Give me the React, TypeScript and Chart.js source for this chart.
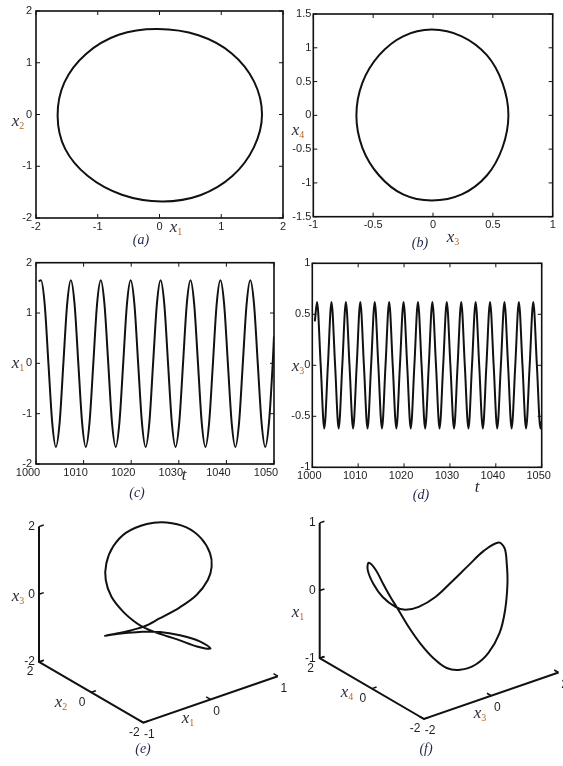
import React, { useEffect, useRef } from "react";
import { Chart, registerables } from "chart.js";

Chart.register(...registerables);

// ---------- data ----------

// Limit cycle in the (x1, x2) plane
const cycleX1 = [1.66, 1.53, 1.17, 0.63, -0.03, -0.66, -1.19, -1.54, -1.65, -1.53, -1.16, -0.61, 0.04, 0.66, 1.18, 1.53];
const cycleX2 = [0.0, 0.64, 1.18, 1.53, 1.65, 1.54, 1.17, 0.62, -0.03, -0.66, -1.19, -1.55, -1.68, -1.56, -1.19, -0.63];

// Limit cycle in the (x3, x4) plane
const cycleX3 = [0.63, 0.58, 0.45, 0.24, -0.01, -0.25, -0.45, -0.59, -0.64, -0.59, -0.45, -0.25, -0.01, 0.24, 0.45, 0.58];
const cycleX4 = [0.0, 0.48, 0.89, 1.17, 1.27, 1.17, 0.89, 0.48, 0.0, -0.48, -0.89, -1.17, -1.26, -1.17, -0.89, -0.48];

// Time samples shared by x1(t) and x3(t)
const tStart = 1000.55;
const tSamples = [
  1001.04, 1001.83, 1002.61, 1003.4, 1004.18, 1004.97, 1005.75, 1006.54,
  1007.32, 1008.11, 1008.89, 1009.68, 1010.46, 1011.25, 1012.04, 1012.82,
  1013.61, 1014.39, 1015.18, 1015.96, 1016.75, 1017.53, 1018.32, 1019.1,
  1019.89, 1020.68, 1021.46, 1022.25, 1023.03, 1023.82, 1024.6, 1025.39,
  1026.17, 1026.96, 1027.74, 1028.53, 1029.31, 1030.1, 1030.89, 1031.67,
  1032.46, 1033.24, 1034.03, 1034.81, 1035.6, 1036.38, 1037.17, 1037.95,
  1038.74, 1039.53, 1040.31, 1041.1, 1041.88, 1042.67, 1043.45, 1044.24,
  1045.02, 1045.81, 1046.59, 1047.38, 1048.16, 1048.95, 1049.73, 1050,
];

const x1Start = 1.63;
const x1Series = [
  1.65, 1.17, 0, -1.17, -1.66, -1.17, 0, 1.17,
  1.65, 1.17, 0, -1.17, -1.66, -1.17, 0, 1.17,
  1.65, 1.17, 0, -1.17, -1.66, -1.17, 0, 1.17,
  1.65, 1.17, 0, -1.17, -1.66, -1.17, 0, 1.17,
  1.65, 1.17, 0, -1.17, -1.66, -1.17, 0, 1.17,
  1.65, 1.17, 0, -1.17, -1.66, -1.17, 0, 1.17,
  1.65, 1.17, 0, -1.17, -1.66, -1.17, 0, 1.17,
  1.65, 1.17, 0, -1.17, -1.66, -1.17, 0, 0.54,
];

const x3Start = 0.43;
const x3Series = [
  0.62, 0, -0.62, 0, 0.62, 0, -0.62, 0,
  0.62, 0, -0.62, 0, 0.62, 0, -0.62, 0,
  0.62, 0, -0.62, 0, 0.62, 0, -0.62, 0,
  0.62, 0, -0.62, 0, 0.62, 0, -0.62, 0,
  0.62, 0, -0.62, 0, 0.62, 0, -0.62, 0,
  0.62, 0, -0.62, 0, 0.62, 0, -0.62, 0,
  0.62, 0, -0.62, 0, 0.62, 0, -0.62, 0,
  0.62, 0, -0.62, 0, 0.62, 0, -0.62, -0.55,
];

// Closed trajectory in (x1, x2, x3) space
const trajE_x1 = [-0.95, -0.65, -0.31, -0.03, 0.31, 0.61, 0.82, 0.92, 0.93, 0.83, 0.63, 0.35, 0.06, -0.25, -0.46, -0.58, -0.62, -0.57, -0.44, -0.31, -0.23, -0.07, 0.19, 0.45, 0.62, 0.44, 0.13, -0.17, -0.47, -0.7];
const trajE_x2 = [-0.4, -0.32, -0.23, -0.12, -0.01, 0.11, 0.22, 0.33, 0.42, 0.5, 0.55, 0.59, 0.6, 0.59, 0.55, 0.5, 0.42, 0.33, 0.22, 0.11, -0.01, -0.12, -0.23, -0.32, -0.4, -0.45, -0.49, -0.5, -0.49, -0.45];
const trajE_x3 = [-0.18, -0.32, -0.43, -0.43, -0.39, -0.28, -0.03, 0.25, 0.6, 1.07, 1.51, 1.83, 1.98, 1.94, 1.69, 1.3, 0.87, 0.38, -0.1, -0.44, -0.6, -0.83, -1.15, -1.5, -1.64, -1.28, -0.87, -0.56, -0.36, -0.26];

// Closed trajectory in (x3, x4, x1) space
const trajF_x3 = [0.86, 0.6, 0.37, 0.12, -0.11, -0.35, -0.5, -0.57, -0.77, -0.91, -0.99, -0.93, -0.76, -0.62, -0.54, -0.48, -0.4, -0.3, -0.16, -0.03, 0.12, 0.35, 0.56, 0.75, 0.83, 0.87, 0.88, 0.9];
const trajF_x4 = [-1.17, -0.94, -0.65, -0.33, 0.0, 0.33, 0.65, 0.94, 1.17, 1.35, 1.46, 1.5, 1.46, 1.35, 1.17, 0.94, 0.65, 0.33, 0.0, -0.33, -0.65, -0.94, -1.17, -1.35, -1.46, -1.5, -1.46, -1.35];
const trajF_x1 = [0.93, 0.8, 0.56, 0.29, 0.03, -0.15, -0.24, -0.25, -0.12, 0.06, 0.25, 0.34, 0.22, 0.01, -0.16, -0.31, -0.51, -0.7, -0.87, -0.96, -0.94, -0.84, -0.65, -0.35, 0.0, 0.4, 0.68, 0.88];

// ---------- styling ----------

const LINE = "#111111";
const TICK_COLOR = "#1e1e1e";
const SANS = '"Liberation Sans", Arial, sans-serif';
const SERIF = '"Liberation Serif", "Times New Roman", serif';
const VAR_COLOR = "#2c2a3a";
const SUB_COLOR = "#b8661c";
const TAG_COLOR = "#1f2648";
const TICK_SIZE = 11;

type Label = { x: number; y: number; text: string; sub?: string; tag?: boolean };

function drawLabels(ctx: CanvasRenderingContext2D, labels: Label[]) {
  ctx.save();
  ctx.textBaseline = "alphabetic";
  ctx.textAlign = "left";
  for (const l of labels) {
    if (l.tag) {
      ctx.font = `italic 14px ${SERIF}`;
      ctx.fillStyle = TAG_COLOR;
      const w = ctx.measureText(l.text).width;
      ctx.fillText(l.text, l.x - w / 2, l.y + 5);
      continue;
    }
    ctx.font = `italic 17px ${SERIF}`;
    const w = ctx.measureText(l.text).width;
    ctx.font = `10px ${SERIF}`;
    const ws = l.sub ? ctx.measureText(l.sub).width : 0;
    const x0 = l.x - (w + ws) / 2;
    ctx.font = `italic 17px ${SERIF}`;
    ctx.fillStyle = VAR_COLOR;
    ctx.fillText(l.text, x0, l.y + 4);
    if (l.sub) {
      ctx.font = `10px ${SERIF}`;
      ctx.fillStyle = SUB_COLOR;
      ctx.fillText(l.sub, x0 + w, l.y + 7);
    }
  }
  ctx.restore();
}

const fmt = (v: number) => String(Math.round(v * 100) / 100);

function range(n: number) {
  return Array.from({ length: n }, (_, i) => i);
}

// A closed curve drawn with smooth joins: the first and last segments only
// supply neighbours for the spline and are left transparent.
function closedCurve(pts: { x: number; y: number }[], tension: number) {
  const n = pts.length;
  const order = [n - 1, ...range(n), 0, 1];
  const last = n + 2;
  return {
    data: order.map((i) => pts[i]),
    showLine: true,
    borderColor: LINE,
    borderWidth: 2,
    pointRadius: 0,
    tension,
    segment: {
      borderColor: (c: any) => (c.p0DataIndex === 0 || c.p1DataIndex === last ? "rgba(0,0,0,0)" : LINE),
    },
  };
}

function timeSeries(t0: number, v0: number, values: number[]) {
  return {
    data: [{ x: t0, y: v0 }, ...tSamples.map((t, i) => ({ x: t, y: values[i] }))],
    showLine: true,
    borderColor: LINE,
    borderWidth: 2,
    pointRadius: 0,
    cubicInterpolationMode: "monotone",
  };
}

// ---------- 2-D panels ----------

type Panel2D = {
  pos: [number, number, number, number];
  area: [number, number, number, number];
  x: [number, number, number];
  y: [number, number, number];
  yPad: number;
  xShift: number;
  labels: Label[];
  series: () => any[];
};

const PANELS_2D: Panel2D[] = [
  {
    pos: [0, 0, 290, 250],
    area: [36, 11, 283, 218],
    x: [-2, 2, 1],
    y: [-2, 2, 1],
    yPad: 4,
    xShift: 0,
    labels: [
      { x: 18, y: 122, text: "x", sub: "2" },
      { x: 176, y: 228, text: "x", sub: "1" },
      { x: 141, y: 239, text: "(a)", tag: true },
    ],
    series: () => [closedCurve(cycleX1.map((x, i) => ({ x, y: cycleX2[i] })), 0.34)],
  },
  {
    pos: [290, 0, 273, 250],
    area: [23.3, 14, 262.7, 216.7],
    x: [-1, 1, 0.5],
    y: [-1.5, 1.5, 0.5],
    yPad: 2,
    xShift: 0,
    labels: [
      { x: 8, y: 131, text: "x", sub: "4" },
      { x: 163, y: 238, text: "x", sub: "3" },
      { x: 130, y: 242, text: "(b)", tag: true },
    ],
    series: () => [closedCurve(cycleX3.map((x, i) => ({ x, y: cycleX4[i] })), 0.34)],
  },
  {
    pos: [0, 250, 290, 260],
    area: [36, 12.7, 274, 214],
    x: [1000, 1050, 10],
    y: [-2, 2, 1],
    yPad: 4,
    xShift: -8,
    labels: [
      { x: 18, y: 114, text: "x", sub: "1" },
      { x: 184, y: 226, text: "t" },
      { x: 137, y: 242, text: "(c)", tag: true },
    ],
    series: () => [timeSeries(tStart, x1Start, x1Series)],
  },
  {
    pos: [290, 250, 273, 260],
    area: [22.3, 13.3, 251.7, 217.3],
    x: [1000, 1050, 10],
    y: [-1, 1, 0.5],
    yPad: 2,
    xShift: -3,
    labels: [
      { x: 8, y: 117, text: "x", sub: "3" },
      { x: 187, y: 238, text: "t" },
      { x: 131, y: 244, text: "(d)", tag: true },
    ],
    series: () => [timeSeries(tStart, x3Start, x3Series)],
  },
];

function build2D(canvas: HTMLCanvasElement, p: Panel2D) {
  const W = p.pos[2];
  const H = p.pos[3];
  const [aL, aT, aR, aB] = p.area;
  const decor = {
    id: "frameTicks",
    afterDraw(chart: any) {
      const { ctx, chartArea: a, scales } = chart;
      ctx.save();
      ctx.strokeStyle = LINE;
      ctx.lineWidth = 1.6;
      ctx.strokeRect(a.left, a.top, a.right - a.left, a.bottom - a.top);
      const L = 4;
      ctx.beginPath();
      for (const t of scales.x.ticks) {
        const px = scales.x.getPixelForValue(t.value);
        ctx.moveTo(px, a.bottom);
        ctx.lineTo(px, a.bottom - L);
        ctx.moveTo(px, a.top);
        ctx.lineTo(px, a.top + L);
      }
      for (const t of scales.y.ticks) {
        const py = scales.y.getPixelForValue(t.value);
        ctx.moveTo(a.left, py);
        ctx.lineTo(a.left + L, py);
        ctx.moveTo(a.right, py);
        ctx.lineTo(a.right - L, py);
      }
      ctx.lineWidth = 1;
      ctx.stroke();
      ctx.restore();
      drawLabels(ctx, p.labels);
    },
  };
  const tickFont = { family: SANS, size: TICK_SIZE };
  return new Chart(canvas, {
    type: "scatter",
    data: { datasets: p.series() },
    options: {
      animation: false,
      responsive: false,
      events: [],
      layout: { padding: { left: 0, top: aT, right: W - aR, bottom: 0 } },
      plugins: { legend: { display: false }, tooltip: { enabled: false } },
      scales: {
        x: {
          type: "linear",
          min: p.x[0],
          max: p.x[1],
          grid: { display: false, drawTicks: false },
          border: { display: false },
          ticks: {
            stepSize: p.x[2],
            autoSkip: false,
            maxRotation: 0,
            minRotation: 0,
            padding: 2,
            labelOffset: p.xShift,
            color: TICK_COLOR,
            font: tickFont,
            callback: (v: any) => fmt(Number(v)),
          },
          afterFit: (s: any) => {
            s.height = H - aB;
          },
        },
        y: {
          type: "linear",
          min: p.y[0],
          max: p.y[1],
          grid: { display: false, drawTicks: false },
          border: { display: false },
          ticks: {
            stepSize: p.y[2],
            autoSkip: false,
            padding: p.yPad,
            color: TICK_COLOR,
            font: tickFont,
            callback: (v: any) => fmt(Number(v)),
          },
          afterFit: (s: any) => {
            s.width = aL;
          },
        },
      },
    } as any,
    plugins: [decor],
  });
}

// ---------- 3-D panels ----------

// Edges of the axis box on screen (pixels, y pointing up)
const EDGE_H = [134.5, 46.5];
const EDGE_D = [-104.3, 60.8];
const EDGE_V = [0, 135.3];

type Axis3 = { min: number; max: number; ticks: number[] };
type Panel3D = {
  pos: [number, number, number, number];
  corner: [number, number];
  h: Axis3;
  d: Axis3;
  v: Axis3;
  path: () => { h: number[]; d: number[]; v: number[] };
  labels: Label[];
};

const PANELS_3D: Panel3D[] = [
  {
    pos: [0, 505, 290, 261],
    corner: [143.3, 217.7],
    h: { min: -1, max: 1, ticks: [-1, 0, 1] },
    d: { min: -2, max: 2, ticks: [-2, 0, 2] },
    v: { min: -2, max: 2, ticks: [-2, 0, 2] },
    path: () => ({ h: trajE_x1, d: trajE_x2, v: trajE_x3 }),
    labels: [
      { x: 18, y: 92, text: "x", sub: "3" },
      { x: 61, y: 198, text: "x", sub: "2" },
      { x: 188, y: 214, text: "x", sub: "1" },
      { x: 143, y: 243, text: "(e)", tag: true },
    ],
  },
  {
    pos: [290, 505, 273, 261],
    corner: [134, 214],
    h: { min: -2, max: 2, ticks: [-2, 0, 2] },
    d: { min: -2, max: 2, ticks: [-2, 0, 2] },
    v: { min: -1, max: 1, ticks: [-1, 0, 1] },
    path: () => ({ h: trajF_x3, d: trajF_x4, v: trajF_x1 }),
    labels: [
      { x: 8, y: 108, text: "x", sub: "1" },
      { x: 57, y: 188, text: "x", sub: "4" },
      { x: 190, y: 209, text: "x", sub: "3" },
      { x: 136, y: 243, text: "(f)", tag: true },
    ],
  },
];

function project(p: Panel3D, h: number, d: number, v: number) {
  const a = (h - p.h.min) / (p.h.max - p.h.min);
  const b = (d - p.d.min) / (p.d.max - p.d.min);
  const c = (v - p.v.min) / (p.v.max - p.v.min);
  return {
    x: a * EDGE_H[0] + b * EDGE_D[0] + c * EDGE_V[0],
    y: a * EDGE_H[1] + b * EDGE_D[1] + c * EDGE_V[1],
  };
}

function unit(e: number[]) {
  const n = Math.hypot(e[0], e[1]);
  return [e[0] / n, -e[1] / n];
}

function build3D(canvas: HTMLCanvasElement, p: Panel3D) {
  const W = p.pos[2];
  const H = p.pos[3];
  const [cx, cy] = p.corner;
  const pr = (h: number, d: number, v: number) => project(p, h, d, v);
  const axes = [
    pr(p.h.min, p.d.max, p.v.max),
    pr(p.h.min, p.d.max, p.v.min),
    pr(p.h.min, p.d.min, p.v.min),
    pr(p.h.max, p.d.min, p.v.min),
  ];
  const path = p.path();
  const pts = path.h.map((h, i) => pr(h, path.d[i], path.v[i]));

  const decor = {
    id: "axes3d",
    afterDraw(chart: any) {
      const { ctx, scales } = chart;
      const toPx = (q: { x: number; y: number }) => [scales.x.getPixelForValue(q.x), scales.y.getPixelForValue(q.y)];
      const uh = unit(EDGE_H);
      const ud = unit(EDGE_D);
      const L = 5;
      ctx.save();
      ctx.strokeStyle = LINE;
      ctx.lineWidth = 1.5;
      ctx.fillStyle = TICK_COLOR;
      ctx.font = `12px ${SANS}`;
      ctx.textBaseline = "middle";
      const tick = (q: number[], u: number[]) => {
        ctx.beginPath();
        ctx.moveTo(q[0], q[1]);
        ctx.lineTo(q[0] + u[0] * L, q[1] + u[1] * L);
        ctx.stroke();
      };
      for (const t of p.v.ticks) {
        const q = toPx(pr(p.h.min, p.d.max, t));
        tick(q, uh);
        ctx.textAlign = "right";
        ctx.fillText(fmt(t), q[0] - 4, q[1]);
      }
      for (const t of p.d.ticks) {
        const q = toPx(pr(p.h.min, t, p.v.min));
        tick(q, uh);
        ctx.textAlign = "center";
        ctx.fillText(fmt(t), q[0] - 9, q[1] + 10);
      }
      for (const t of p.h.ticks) {
        const q = toPx(pr(t, p.d.min, p.v.min));
        tick(q, ud);
        ctx.textAlign = "center";
        ctx.fillText(fmt(t), q[0] + 6, q[1] + 12);
      }
      ctx.restore();
      drawLabels(ctx, p.labels);
    },
  };

  return new Chart(canvas, {
    type: "scatter",
    data: {
      datasets: [
        {
          data: axes,
          showLine: true,
          borderColor: LINE,
          borderWidth: 2,
          pointRadius: 0,
          tension: 0,
        },
        closedCurve(pts, 0.35),
      ],
    },
    options: {
      animation: false,
      responsive: false,
      events: [],
      layout: { padding: 0 },
      plugins: { legend: { display: false }, tooltip: { enabled: false } },
      scales: {
        x: { type: "linear", display: false, min: -cx, max: W - cx },
        y: { type: "linear", display: false, min: cy - H, max: cy },
      },
    } as any,
    plugins: [decor],
  });
}

// ---------- page ----------

export default function App() {
  const refs = useRef<(HTMLCanvasElement | null)[]>([]);

  useEffect(() => {
    const charts: Chart[] = [];
    PANELS_2D.forEach((p, i) => {
      const c = refs.current[i];
      if (c) charts.push(build2D(c, p));
    });
    PANELS_3D.forEach((p, i) => {
      const c = refs.current[PANELS_2D.length + i];
      if (c) charts.push(build3D(c, p));
    });
    return () => charts.forEach((c) => c.destroy());
  }, []);

  const boxes = [...PANELS_2D.map((p) => p.pos), ...PANELS_3D.map((p) => p.pos)];

  return (
    <div
      style={{
        position: "absolute",
        left: 0,
        top: 0,
        width: 563,
        height: 766,
        background: "#ffffff",
        overflow: "hidden",
      }}
    >
      {boxes.map((b, i) => (
        <canvas
          key={i}
          ref={(el) => {
            refs.current[i] = el;
          }}
          width={b[2]}
          height={b[3]}
          style={{ position: "absolute", left: b[0], top: b[1], width: b[2], height: b[3] }}
        />
      ))}
    </div>
  );
}
